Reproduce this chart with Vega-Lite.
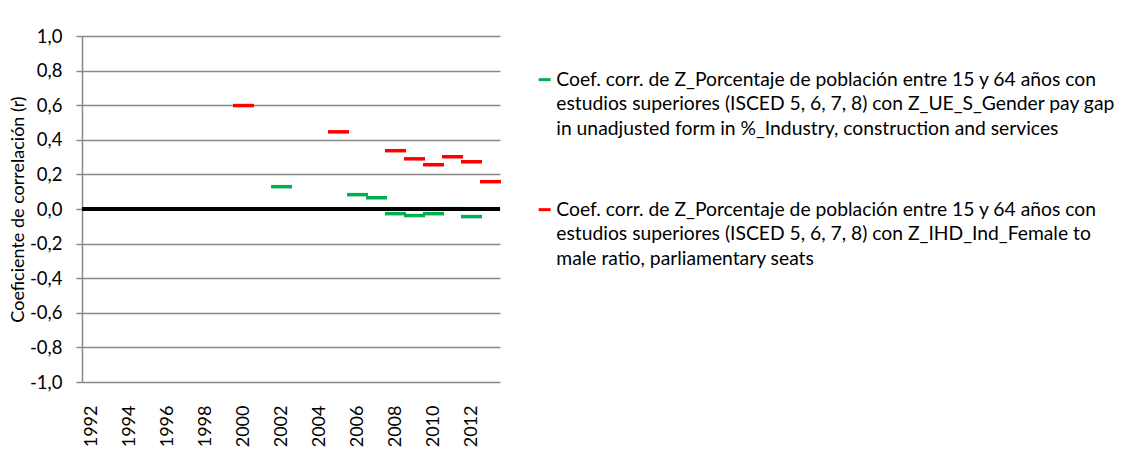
{
  "$schema": "https://vega.github.io/schema/vega-lite/v6.json",
  "autosize": {"type": "none"},
  "padding": {"left": 82, "top": 36, "right": 624, "bottom": 80},
  "width": 418,
  "height": 346,
  "background": "white",
  "config": {
    "font": "Lato",
    "view": {"stroke": null},
    "style": {"guide-label": {"lineHeight": 24.5}}
  },
  "data": {
    "values": [
      {"year": 2002, "series": "Coef. corr. de Z_Porcentaje de población entre 15 y 64 años con estudios superiores (ISCED 5, 6, 7, 8)  con Z_UE_S_Gender pay gap in unadjusted form in %_Industry, construction and services", "r": 0.129},
      {"year": 2006, "series": "Coef. corr. de Z_Porcentaje de población entre 15 y 64 años con estudios superiores (ISCED 5, 6, 7, 8)  con Z_UE_S_Gender pay gap in unadjusted form in %_Industry, construction and services", "r": 0.083},
      {"year": 2007, "series": "Coef. corr. de Z_Porcentaje de población entre 15 y 64 años con estudios superiores (ISCED 5, 6, 7, 8)  con Z_UE_S_Gender pay gap in unadjusted form in %_Industry, construction and services", "r": 0.065},
      {"year": 2008, "series": "Coef. corr. de Z_Porcentaje de población entre 15 y 64 años con estudios superiores (ISCED 5, 6, 7, 8)  con Z_UE_S_Gender pay gap in unadjusted form in %_Industry, construction and services", "r": -0.027},
      {"year": 2009, "series": "Coef. corr. de Z_Porcentaje de población entre 15 y 64 años con estudios superiores (ISCED 5, 6, 7, 8)  con Z_UE_S_Gender pay gap in unadjusted form in %_Industry, construction and services", "r": -0.038},
      {"year": 2010, "series": "Coef. corr. de Z_Porcentaje de población entre 15 y 64 años con estudios superiores (ISCED 5, 6, 7, 8)  con Z_UE_S_Gender pay gap in unadjusted form in %_Industry, construction and services", "r": -0.027},
      {"year": 2011, "series": "Coef. corr. de Z_Porcentaje de población entre 15 y 64 años con estudios superiores (ISCED 5, 6, 7, 8)  con Z_UE_S_Gender pay gap in unadjusted form in %_Industry, construction and services", "r": 0.002},
      {"year": 2012, "series": "Coef. corr. de Z_Porcentaje de población entre 15 y 64 años con estudios superiores (ISCED 5, 6, 7, 8)  con Z_UE_S_Gender pay gap in unadjusted form in %_Industry, construction and services", "r": -0.044},
      {"year": 2000, "series": "Coef. corr. de Z_Porcentaje de población entre 15 y 64 años con estudios superiores (ISCED 5, 6, 7, 8)  con Z_IHD_Ind_Female to male ratio, parliamentary seats", "r": 0.598},
      {"year": 2005, "series": "Coef. corr. de Z_Porcentaje de población entre 15 y 64 años con estudios superiores (ISCED 5, 6, 7, 8)  con Z_IHD_Ind_Female to male ratio, parliamentary seats", "r": 0.446},
      {"year": 2008, "series": "Coef. corr. de Z_Porcentaje de población entre 15 y 64 años con estudios superiores (ISCED 5, 6, 7, 8)  con Z_IHD_Ind_Female to male ratio, parliamentary seats", "r": 0.337},
      {"year": 2009, "series": "Coef. corr. de Z_Porcentaje de población entre 15 y 64 años con estudios superiores (ISCED 5, 6, 7, 8)  con Z_IHD_Ind_Female to male ratio, parliamentary seats", "r": 0.29},
      {"year": 2010, "series": "Coef. corr. de Z_Porcentaje de población entre 15 y 64 años con estudios superiores (ISCED 5, 6, 7, 8)  con Z_IHD_Ind_Female to male ratio, parliamentary seats", "r": 0.256},
      {"year": 2011, "series": "Coef. corr. de Z_Porcentaje de población entre 15 y 64 años con estudios superiores (ISCED 5, 6, 7, 8)  con Z_IHD_Ind_Female to male ratio, parliamentary seats", "r": 0.302},
      {"year": 2012, "series": "Coef. corr. de Z_Porcentaje de población entre 15 y 64 años con estudios superiores (ISCED 5, 6, 7, 8)  con Z_IHD_Ind_Female to male ratio, parliamentary seats", "r": 0.273},
      {"year": 2013, "series": "Coef. corr. de Z_Porcentaje de población entre 15 y 64 años con estudios superiores (ISCED 5, 6, 7, 8)  con Z_IHD_Ind_Female to male ratio, parliamentary seats", "r": 0.158}
    ]
  },
  "layer": [
    {
      "mark": {"type": "tick", "size": 21, "thickness": 3.5, "opacity": 1},
      "encoding": {
        "x": {
          "field": "year",
          "type": "ordinal",
          "scale": {"domain": [1992,1993,1994,1995,1996,1997,1998,1999,2000,2001,2002,2003,2004,2005,2006,2007,2008,2009,2010,2011,2012,2013], "paddingInner": 0, "paddingOuter": 0},
          "axis": {
            "values": [1992,1994,1996,1998,2000,2002,2004,2006,2008,2010,2012],
            "title": null,
            "labelAngle": -90,
            "labelAlign": "right",
            "labelBaseline": "middle",
            "labelFontSize": 18,
            "labelColor": "black",
            "labelPadding": 23,
            "labelOverlap": false,
            "ticks": false,
            "domain": false
          }
        },
        "y": {
          "field": "r",
          "type": "quantitative",
          "scale": {"domain": [-1, 1], "nice": false, "zero": false},
          "axis": {
            "values": [-1,-0.8,-0.6,-0.4,-0.2,0,0.2,0.4,0.6,0.8,1],
            "tickCount": 11,
            "labelExpr": "replace(replace(format(datum.value, '.1f'), '.', ','), '−', '-')",
            "labelOverlap": false,
            "title": "Coeficiente de correlación (r)",
            "titleFontSize": 18,
            "titleFontWeight": "normal",
            "titleColor": "black",
            "titlePadding": 2,
            "labelFontSize": 18.5,
            "labelColor": "black",
            "labelPadding": 14,
            "tickSize": 6,
            "tickColor": "#898989",
            "tickWidth": 1.5,
            "domainColor": "#898989",
            "domainWidth": 1.5,
            "grid": true,
            "gridColor": "#898989",
            "gridWidth": 1.5
          }
        },
        "color": {
          "field": "series",
          "type": "nominal",
          "scale": {
            "domain": [
              "Coef. corr. de Z_Porcentaje de población entre 15 y 64 años con estudios superiores (ISCED 5, 6, 7, 8)  con Z_UE_S_Gender pay gap in unadjusted form in %_Industry, construction and services",
              "Coef. corr. de Z_Porcentaje de población entre 15 y 64 años con estudios superiores (ISCED 5, 6, 7, 8)  con Z_IHD_Ind_Female to male ratio, parliamentary seats"
            ],
            "range": ["#00B050", "#FF0000"]
          },
          "legend": {
            "title": null,
            "orient": "none",
            "legendX": 453,
            "legendY": 34,
            "padding": 0,
            "symbolType": "M-1,-0.25H1V0.25H-1Z",
            "symbolSize": 144,
            "symbolStrokeWidth": 0,
            "symbolOpacity": 1,
            "labelFontSize": 19.3,
            "labelColor": "black",
            "labelLimit": 700,
            "labelOffset": 2,
            "rowPadding": 61,
            "labelExpr": "split(replace(replace(replace(datum.label, 'años con ', 'años con|'), 'gap in', 'gap|in'), 'to male', 'to|male'), '|')"
          }
        }
      }
    },
    {
      "mark": {"type": "rule", "color": "black", "strokeWidth": 3},
      "encoding": {"y": {"datum": 0}}
    }
  ]
}
